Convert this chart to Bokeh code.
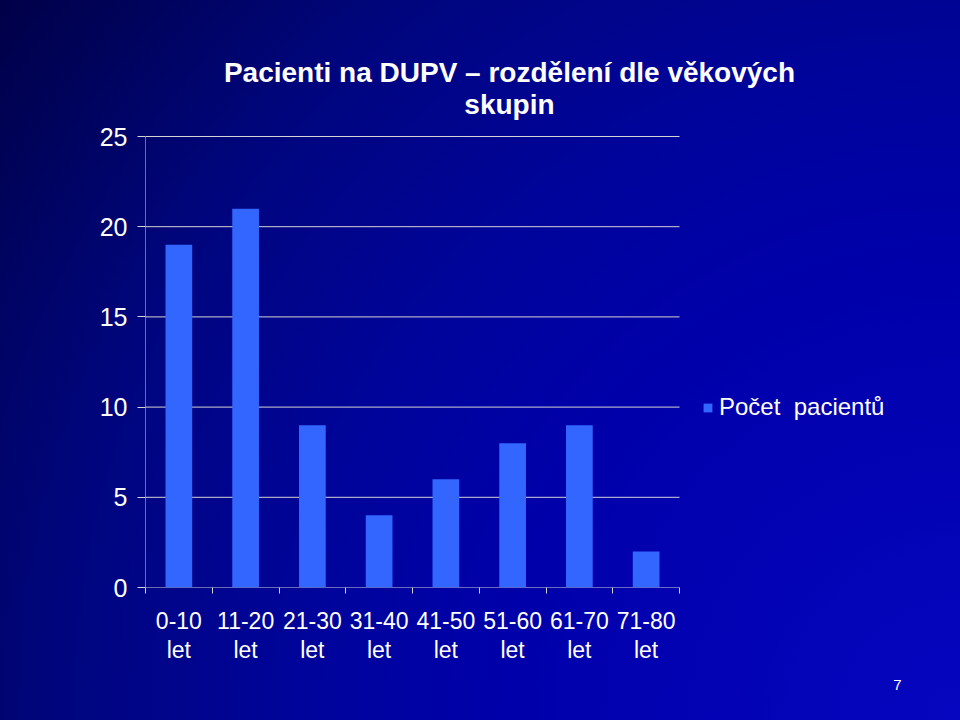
import numpy as np
from bokeh.plotting import figure
from bokeh.models import Range1d, FixedTicker, Legend, LegendItem, Title, Label
from bokeh.embed import file_html
from bokeh.resources import INLINE

categories = ["0-10", "11-20", "21-30", "31-40", "41-50", "51-60", "61-70", "71-80"]
tick_labels = ["0-10\nlet", "11-20\nlet", "21-30\nlet", "31-40\nlet",
               "41-50\nlet", "51-60\nlet", "61-70\nlet", "71-80\nlet"]
patients = [19, 21, 9, 4, 6, 8, 9, 2]
y_ticks = [0, 5, 10, 15, 20, 25]
series_name = "Počet  pacientů"
title_lines = ["Pacienti na DUPV – rozdělení dle věkových", "skupin"]
page_number = "7"

FONT = "Liberation Sans"
AXIS_COLOR = "#d4d4d4"
n = len(categories)
xpos = np.arange(n) + 0.5
y_max = y_ticks[-1]

# frame spans 145..930 px horizontally and 40..587 px vertically; the
# plotting area itself (0..n, 0..y_max) occupies 145..679 x 136..587
p = figure(width=960, height=720, output_backend="svg", toolbar_location=None,
           x_range=Range1d(0, n * 785 / 534), y_range=Range1d(0, y_max * 547 / 451),
           min_border_left=145, min_border_right=30,
           min_border_top=40, min_border_bottom=133)
p.styles = {"background": "radial-gradient(circle farthest-corner at 100% 100%, #0606c0 0%, #0000aa 38%, #00049a 55%, #00057e 75%, #00035c 90%, #000048 100%)"}
p.background_fill_alpha = 0
p.border_fill_alpha = 0
p.outline_line_color = None

# grid lines and axis lines limited to the category area
p.segment(x0=[0] * len(y_ticks), x1=[n] * len(y_ticks), y0=y_ticks, y1=y_ticks,
          line_color=AXIS_COLOR, line_width=1)
p.segment(x0=[0], x1=[0], y0=[0], y1=[y_max], line_color=AXIS_COLOR, line_width=1)

r = p.vbar(x=xpos, top=patients, width=0.4, fill_color="#3366ff", line_color=None)

# x axis
xa = p.xaxis[0]
xa.ticker = FixedTicker(ticks=list(xpos), minor_ticks=list(range(n + 1)))
xa.major_label_overrides = {float(x): lab for x, lab in zip(xpos, tick_labels)}
xa.major_tick_out = 0
xa.major_tick_in = 0
xa.minor_tick_out = 6
xa.minor_tick_in = 0
xa.minor_tick_line_color = AXIS_COLOR
xa.axis_line_color = None
xa.major_label_text_color = "white"
xa.major_label_text_font = FONT
xa.major_label_text_font_size = "23px"
xa.major_label_standoff = 14
xa.major_label_text_line_height = 1.15

# y axis
ya = p.yaxis[0]
ya.ticker = FixedTicker(ticks=y_ticks, minor_ticks=[])
ya.major_tick_out = 8
ya.major_tick_in = 0
ya.major_tick_line_color = AXIS_COLOR
ya.axis_line_color = None
ya.major_label_text_color = "white"
ya.major_label_text_font = FONT
ya.major_label_text_font_size = "25px"
ya.major_label_standoff = 10

p.xgrid.grid_line_color = None
p.ygrid.grid_line_color = None

legend = Legend(items=[LegendItem(label=series_name, renderers=[r])],
                location=(557, 166), background_fill_alpha=0, border_line_color=None,
                label_text_color="white", label_text_font=FONT, label_text_font_size="24px",
                glyph_width=11, glyph_height=11, padding=2, margin=0, label_standoff=6)
p.add_layout(legend, "center")

for line, yv in zip(title_lines, [28.55, 26.77]):
    p.add_layout(Label(x=5.453, y=yv, text=line, text_align="center", text_baseline="middle",
                       text_color="white", text_font=FONT, text_font_style="bold",
                       text_font_size="28px"))

p.add_layout(Title(text=page_number, align="right", offset=29, standoff=22,
                   text_color="white", text_font=FONT, text_font_style="normal",
                   text_font_size="15px"), "below")

open("out.html", "w").write(file_html(p, INLINE))
